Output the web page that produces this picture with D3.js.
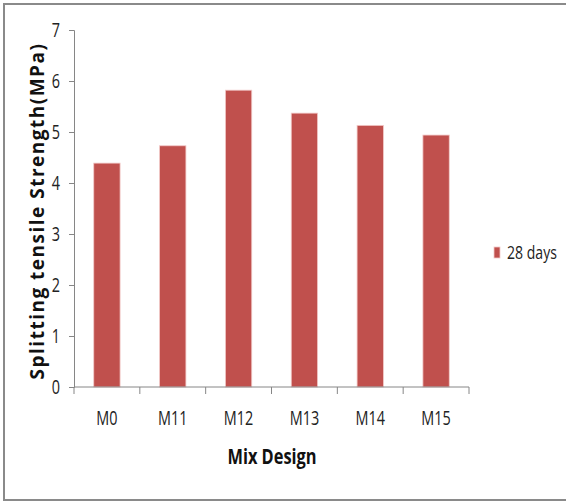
<!DOCTYPE html>
<html>
<head>
<meta charset="utf-8">
<script src="https://cdn.jsdelivr.net/npm/d3@7"></script>
<style>
  html, body { margin: 0; padding: 0; background: #fff; }
  svg { display: block; }
</style>
</head>
<body>
<svg id="chart" width="566" height="502"></svg>
<script>
// Splitting tensile strength at 28 days for each mix
const categories = ["M0", "M11", "M12", "M13", "M14", "M15"];
const strength28 = [4.39, 4.73, 5.82, 5.37, 5.13, 4.94];
const yTicks = [0, 1, 2, 3, 4, 5, 6, 7];
const seriesName = "28 days";

const svg = d3.select("#chart");
const W = 566, H = 502;
const plot = { left: 74, right: 469, top: 30, bottom: 387 };
const barColor = "#C0504D";
const axisColor = "#868686";
const tickFont = "'Open Sans', sans-serif";
const narrow = 0.74; // horizontal squeeze for a condensed look

// frame around the chart area
svg.append("rect")
  .attr("x", 4).attr("y", 4).attr("width", W + 10).attr("height", H - 6)
  .attr("fill", "#fff").attr("stroke", "#8a8a8a").attr("stroke-width", 2);

const x = d3.scaleBand().domain(categories).range([plot.left, plot.right]).paddingInner(0).paddingOuter(0);
const y = d3.scaleLinear().domain([0, 7]).range([plot.bottom, plot.top]);

// bars
const barW = x.bandwidth() * 0.4;
svg.append("g").selectAll("rect").data(categories).join("rect")
  .attr("x", (d) => x(d) + (x.bandwidth() - barW) / 2)
  .attr("y", (d, i) => y(strength28[i]))
  .attr("width", barW)
  .attr("height", (d, i) => y(0) - y(strength28[i]))
  .attr("fill", barColor)
  .attr("stroke", "#f2c9c8").attr("stroke-width", 0.8);

// y axis
const yAxis = svg.append("g").attr("transform", `translate(${plot.left},0)`)
  .call(d3.axisLeft(y).tickValues(yTicks).tickFormat(d3.format("d")).tickSize(5).tickPadding(14));
yAxis.select(".domain").attr("stroke", axisColor);
yAxis.selectAll(".tick line").attr("stroke", axisColor);
yAxis.selectAll(".tick text")
  .attr("font-family", tickFont).attr("font-size", 19.5).attr("fill", "#222")
  .attr("transform", `scale(${narrow},1)`);

// x axis: ticks sit on the category boundaries
const xAxis = svg.append("g").attr("transform", `translate(0,${plot.bottom})`);
xAxis.append("line")
  .attr("x1", plot.left).attr("x2", plot.right)
  .attr("stroke", axisColor);
const bounds = categories.map((c) => x(c)).concat([plot.right]);
xAxis.selectAll("line.tk").data(bounds).join("line").attr("class", "tk")
  .attr("x1", (d) => d).attr("x2", (d) => d).attr("y1", 0).attr("y2", 7)
  .attr("stroke", axisColor);
xAxis.selectAll("text").data(categories).join("text")
  .attr("transform", (d) => `translate(${x(d) + x.bandwidth() / 2},38) scale(${narrow},1)`)
  .attr("text-anchor", "middle")
  .attr("font-family", tickFont).attr("font-size", 19.5).attr("fill", "#222")
  .text((d) => d);

// axis titles
svg.append("text")
  .attr("transform", `translate(272,464) scale(0.8,1)`)
  .attr("text-anchor", "middle")
  .attr("font-family", "'Open Sans', sans-serif").attr("font-weight", "bold")
  .attr("font-size", 20.5).attr("fill", "#111")
  .text("Mix Design");

svg.append("text")
  .attr("transform", "translate(44,211) rotate(-90)")
  .attr("text-anchor", "middle")
  .attr("font-family", "'Open Sans', sans-serif").attr("font-weight", "bold")
  .attr("font-size", 19).attr("letter-spacing", 1.5).attr("fill", "#111")
  .text("Splitting tensile Strength(MPa)");

// legend
const lg = svg.append("g").attr("transform", "translate(494,247)");
lg.append("rect").attr("x", 0).attr("y", 0).attr("width", 6).attr("height", 11)
  .attr("fill", barColor).attr("stroke", "#f2c9c8").attr("stroke-width", 0.8);
lg.append("text").attr("transform", "translate(13,12) scale(0.76,1)")
  .attr("font-family", tickFont).attr("font-size", 18.5).attr("fill", "#222")
  .text(seriesName);
</script>
</body>
</html>
